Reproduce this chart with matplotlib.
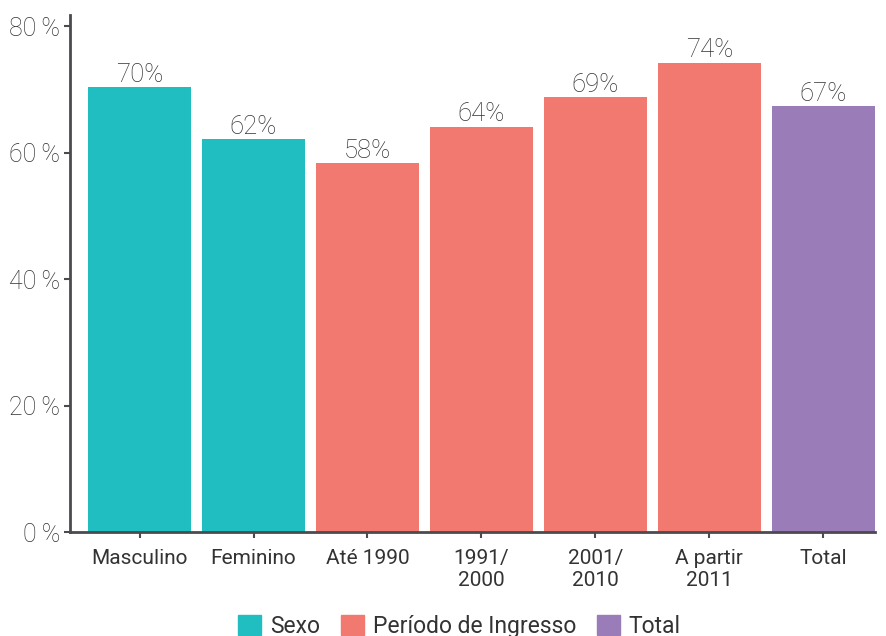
import numpy as np
import matplotlib.pyplot as plt
from matplotlib.patches import Patch

# dados
categorias = ['Masculino', 'Feminino', 'Até 1990', '1991/\n2000', '2001/\n2010', 'A partir\n2011', 'Total']
valores = [70.3, 62.1, 58.3, 64.1, 68.7, 74.2, 67.3]
rotulos = ['70%', '62%', '58%', '64%', '69%', '74%', '67%']
grupos = ['Sexo', 'Sexo', 'Período de Ingresso', 'Período de Ingresso',
          'Período de Ingresso', 'Período de Ingresso', 'Total']
cores_grupo = {'Sexo': '#20BEC0', 'Período de Ingresso': '#F17970', 'Total': '#9A7DB8'}
yticks = [0, 20, 40, 60, 80]

plt.rcParams['font.family'] = ['Roboto', 'DejaVu Sans']
texto = '#333333'

fig = plt.figure(figsize=(8.87, 6.36), dpi=100)
ax = fig.add_axes([0.079, 0.1635, 0.907, 0.8125])

x = np.arange(len(categorias))
cores = [cores_grupo[g] for g in grupos]
ax.bar(x, valores, width=0.9, color=cores, zorder=2)

for xi, v, r in zip(x, valores, rotulos):
    ax.text(xi, v + 0.1, r, ha='center', va='bottom', fontsize=18.5,
            color=texto, fontweight='light')

ax.set_xlim(-0.61, 6.45)
ax.set_ylim(0, 81.7)
ax.set_yticks(yticks)
ax.set_yticklabels([f'{t}\u2009%' for t in yticks])
ax.set_xticks(x)
ax.set_xticklabels(categorias, linespacing=1.25)

for s in ['top', 'right']:
    ax.spines[s].set_visible(False)
for s in ['left', 'bottom']:
    ax.spines[s].set_color('#4a4a4f')
    ax.spines[s].set_linewidth(2)
ax.tick_params(axis='both', colors='#4a4a4f', width=1.5, length=4)
ax.tick_params(axis='y', labelsize=18, labelcolor=texto, pad=3)
ax.tick_params(axis='x', labelsize=15, labelcolor=texto, pad=8)
for lab in ax.get_yticklabels():
    lab.set_fontweight('light')

handles = [Patch(color=c, label=g) for g, c in cores_grupo.items()]
leg = fig.legend(handles=handles, loc='lower center', bbox_to_anchor=(0.518, -0.035),
                 ncol=3, frameon=False, fontsize=16.5, handlelength=1.0,
                 handleheight=1.0, handletextpad=0.4, columnspacing=0.9)
for t in leg.get_texts():
    t.set_color(texto)

fig.savefig('out.png', dpi=100)
